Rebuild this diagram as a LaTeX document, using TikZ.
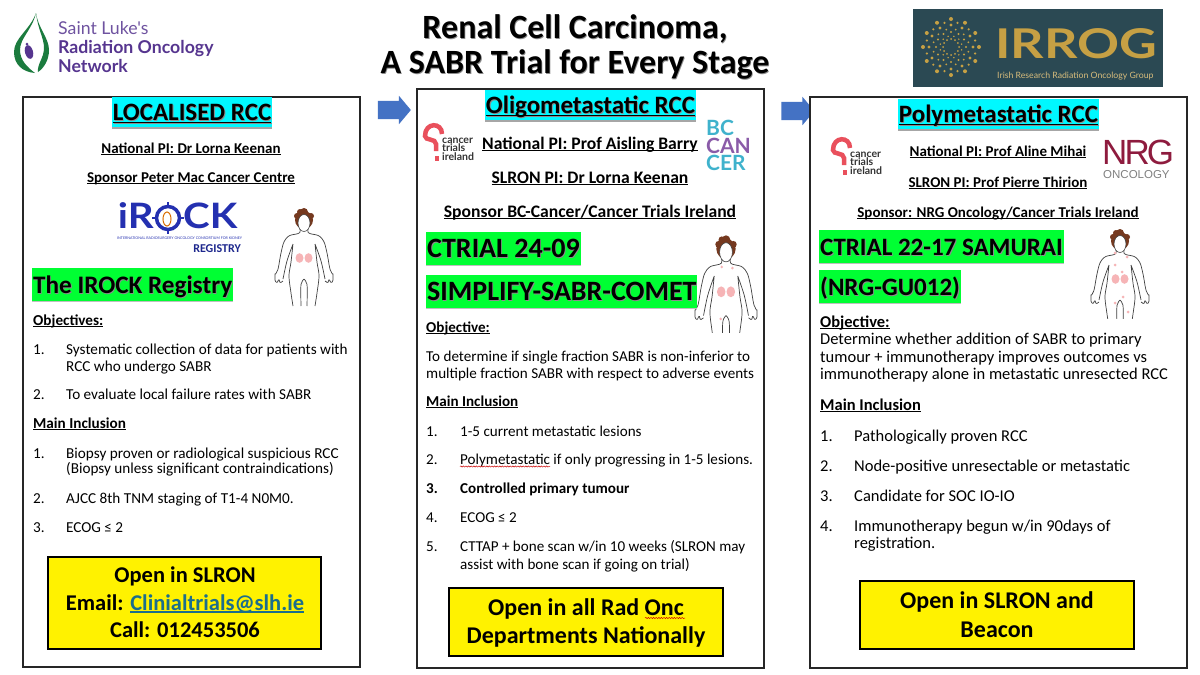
\documentclass[tikz,border=0pt]{standalone}
\usepackage{fontspec}
\setmainfont{Carlito}
\newfontfamily\logofont{Lato}
\newfontfamily\nrgfont{Liberation Sans}
\usetikzlibrary{shapes.arrows,shadows,decorations.pathmorphing}

\definecolor{irblue}{HTML}{4472C4}
\definecolor{irgreen}{HTML}{00FF33}
\definecolor{ircyan}{HTML}{00F8FF}
\definecolor{slpurple}{HTML}{56358F}
\definecolor{slgreen}{HTML}{1B7B3E}
\definecolor{irgold}{HTML}{C6A044}
\definecolor{irslate}{HTML}{2B4953}
\definecolor{rockblue}{HTML}{2430B0}
\definecolor{ctipink}{HTML}{E9505C}
\definecolor{bcteal}{HTML}{3FB2CC}
\definecolor{bcpurple}{HTML}{8A5BA8}
\definecolor{nrgred}{HTML}{8E1B3E}
\definecolor{mailblue}{HTML}{1B6E8C}
\definecolor{kidney}{HTML}{F6B4B6}
\definecolor{hair}{HTML}{75391F}

\newcommand{\fsz}[1]{\fontsize{#1}{#1}\selectfont}
\newcommand{\shtx}[1]{\leavevmode\rlap{\raisebox{-1pt}{\kern.8pt\textcolor{black!45}{#1}}}#1}
\newcommand{\uln}[1]{\leavevmode\setbox0\hbox{#1}\rlap{\rule[-.13em]{\wd0}{.07em}}\box0 }

\tikzset{
  x=1pt, y=-1pt,
  panel/.style={draw=black!85, line width=1.5pt, fill=white, inner sep=0pt},
  head/.style={anchor=base, fill=ircyan, inner xsep=1pt, inner ysep=0pt,
    text height=23pt, text depth=7pt, font=\bfseries\fsz{25},
    drop shadow={shadow xshift=0pt, shadow yshift=-1.5pt, fill=black!35, opacity=1}},
  trial/.style={anchor=base west, fill=irgreen, inner xsep=1pt, inner ysep=0pt,
    text height=25pt, text depth=8pt, font=\bfseries\fsz{#1},
    drop shadow={shadow xshift=0pt, shadow yshift=-1pt, fill=black!25, opacity=1}},
  openbox/.style={draw=black, line width=1.5pt, fill=yellow, inner sep=0pt},
  openline/.style={anchor=base, inner sep=0pt, font=\bfseries\fsz{#1}},
  who/.style={anchor=base, inner sep=0pt, font=\bfseries\fsz{#1}},
  txt/.style={anchor=base west, inner sep=0pt, font=\fsz{#1}},
  logotxt/.style={anchor=base west, inner sep=0pt, text=#1},
  blockarrow/.style={single arrow, fill=irblue, inner sep=0pt, minimum height=33pt,
    minimum width=28pt, single arrow head extend=5pt, single arrow tip angle=100,
    text height=9pt, text depth=9pt},
  squigline/.style={red!80!black, line width=.5pt, decorate,
    decoration={snake, amplitude=.6pt, segment length=2.6pt}},
  pics/body/.style={code={
    % --- Both halves of the outline ---
    \foreach \sd in {1,-1}{
      \draw[black!75, line width=.7pt, xscale=\sd, rounded corners=1pt]
        plot[smooth] coordinates {(4,8) (5,12) (15,15) (20,21) (23,32) (26,48) (29,54)}
        -- (29,60) -- (27,62) -- (25,58) -- (24,62) -- (21,60)
        plot[smooth] coordinates {(21,58) (17,40) (11,23)}
        plot[smooth] coordinates {(11,23) (13,41) (15,55) (13,72) (11,85)}
        plot[smooth] coordinates {(3,85) (3,64) (0,58)};
      \fill[kidney] (4.5*\sd,37) ellipse [x radius=4pt, y radius=4.8pt];
    }
    % --- Head ---
    \fill[hair] (0,-1) ellipse [x radius=9pt, y radius=9pt];
    \fill[hair] (-7,-5) circle (3pt) (7,-5) circle (3pt) (0,-9) circle (4pt) (-4,-9) circle (3pt);
    \draw[black!75, fill=white, line width=.6pt] (0,2) ellipse [x radius=6pt, y radius=8.5pt];
  }},
  pics/metsolig/.style={code={
    \foreach \mx/\my in {-4/15,6/16,-5/61}
      \fill[kidney] (\mx,\my) circle (1.3pt);
  }},
  pics/metspoly/.style={code={
    \foreach \mx/\my in {-5/11,7/15,-5/23,3/55,-5/61,8/70,2/30}
      \fill[kidney] (\mx,\my) circle (1.5pt);
  }},
  pics/cti/.style={code={
    \draw[ctipink, line width=4.5pt]
      (9,1) .. controls (9,-11) and (-8,-11) .. (-8,3)
      .. controls (-8,8) and (3,5) .. (3,11) -- (3,18);
    \fill[ctipink] (2,23) rectangle (6,28);
    \node[logotxt=black!80, font=\logofont\bfseries\fsz{10.5}] (-ca) at (9,10) {cancer};
    \node[logotxt=black!80, font=\logofont\bfseries\fsz{10.5}] (-tr) at (9,18.5) {trials};
    \node[logotxt=black!80, font=\logofont\bfseries\fsz{10.5}] (-ir) at (9,27) {ireland};
  }},
}

\begin{document}
\begin{tikzpicture}
  \useasboundingbox (0,0) rectangle (1200,675);
  \fill[white] (0,0) rectangle (1200,675);

  % --- Title ---
  \node[anchor=base, inner sep=0pt, font=\bfseries\fsz{34}] (titlea) at (575,38) {\shtx{Renal Cell Carcinoma,}};
  \node[anchor=base, inner sep=0pt, font=\bfseries\fsz{34}] (titleb) at (575,73) {\shtx{A SABR Trial for Every Stage}};

  % --- Saint Luke's logo ---
  \fill[slgreen] (36,13) .. controls (30,30) and (14,38) .. (14,52)
    .. controls (14,64) and (22,72) .. (35,73)
    .. controls (27,67) and (20,60) .. (20,50)
    .. controls (20,38) and (32,30) .. (36,13);
  \fill[slgreen] (36,13) .. controls (38,28) and (49,38) .. (49,50)
    .. controls (49,60) and (44,68) .. (38,72)
    .. controls (37,64) and (44,58) .. (44,48)
    .. controls (44,38) and (38,30) .. (36,13);
  \fill[slpurple, rotate around={15:(29,52)}] (29,52) ellipse [x radius=4pt, y radius=7pt];
  \fill[slpurple] (27,44) circle (1.5pt);
  \node[logotxt=slpurple!85, font=\logofont\fsz{17.7}] (slrona) at (58,34) {Saint Luke's};
  \node[logotxt=slpurple, font=\logofont\bfseries\fsz{17.7}] (slronb) at (58,53) {Radiation Oncology};
  \node[logotxt=slpurple, font=\logofont\bfseries\fsz{17.7}] (slronc) at (58,72) {Network};

  % --- IRROG logo ---
  \fill[irslate] (913,9) rectangle (1163,87);
  \foreach \ang in {0,30,...,330}{
    \foreach \rr/\dd in {8/1,15/1.2,22/1.6,28/2}
      \fill[irgold] (951,47) ++(\ang:\rr pt) circle (\dd pt);
    \foreach \rr/\dd in {11/.8,18/1,25/1.2}
      \fill[irgold] (951,47) ++(\ang+15:\rr pt) circle (\dd pt);
  }
  \node[logotxt=irgold, font=\logofont\bfseries\fsz{41}] (irrogname) at (995,58) {\scalebox{1.27}[1]{IRROG}};
  \node[logotxt=irgold!70!white, font=\logofont\fsz{8.7}] (irrogsub) at (997,78) {Irish Research Radiation Oncology Group};

  % --- Arrows between panels ---
  \node[blockarrow] (arrowa) at (390.5,110) {};
  \node[blockarrow] (arrowb) at (794,111) {};

  % --- Localised panel ---
  \node[panel, minimum width=337pt, minimum height=570pt] (locpanel) at (191.5,382) {};
  \node[head] (lochead) at (192,120) {\shtx{\uln{LOCALISED RCC}}};
  \node[who=15] (locpi) at (191,153) {\uln{National PI: Dr Lorna Keenan}};
  \node[who=15] (locsp) at (191,182) {\uln{Sponsor Peter Mac Cancer Centre}};

  \node[logotxt=rockblue, font=\logofont\bfseries\fsz{35}, anchor=base east] (rocka) at (154,228) {\scalebox{1.15}[1]{iR}};
  \draw[rockblue, line width=3.5pt] (168,218) circle (11.5pt);
  \draw[rockblue, line width=1.5pt] (168,202) -- (168,207) (168,229) -- (168,234) (152,218) -- (157,218) (179,218) -- (184,218);
  \draw[orange!85!black, line width=1pt] (167,219) ellipse [x radius=4pt, y radius=7pt];
  \node[logotxt=rockblue, font=\logofont\bfseries\fsz{35}] (rockb) at (183,228) {\scalebox{1.15}[1]{CK}};
  \node[logotxt=rockblue, font=\logofont\fsz{3.6}] (rockc) at (117,239) {INTERNATIONAL RADIOSURGERY ONCOLOGY CONSORTIUM FOR KIDNEY};
  \node[logotxt=rockblue!80!black, font=\bfseries\fsz{12}, anchor=base east] (rockd) at (241,252) {REGISTRY};

  \pic at (304,221) {body};
  \node[trial=25.2] (loctrial) at (32,293) {\shtx{The IROCK Registry}};

  \foreach \nm/\xx/\yy/\tx in {
    a/33/325/{\textbf{\uln{Objectives:}}},
    b/33/354/{1.}, c/66/354/{Systematic collection of data for patients with},
    d/66/371/{RCC who undergo SABR},
    e/33/399/{2.}, f/66/399/{To evaluate local failure rates with SABR},
    g/33/428/{\textbf{\uln{Main Inclusion}}},
    h/33/458/{1.}, i/66/458/{Biopsy proven or radiological suspicious RCC},
    j/66/473/{(Biopsy unless significant contraindications)},
    k/33/503/{2.}, l/66/503/{AJCC 8th TNM staging of T1-4 N0M0.},
    m/33/532/{3.}, n/66/532/{ECOG ≤ 2}}
    \node[txt=15.2] (loc\nm) at (\xx,\yy) {\tx};

  \node[openbox, minimum width=273pt, minimum height=92pt] (locopen) at (184.5,603) {};
  \node[openline=22.5] (locopena) at (185,582) {Open in SLRON};
  \node[openline=22.5] (locopenb) at (185,610) {Email: \textcolor{mailblue}{\uln{Clinialtrials@slh.ie}}};
  \node[openline=22.5] (locopenc) at (185,637) {Call: 012453506};

  % --- Oligometastatic panel ---
  \node[panel, minimum width=347pt, minimum height=579pt] (oligpanel) at (590.5,378.5) {};
  \node[head] (olighead) at (590.5,113) {\shtx{\uln{Oligometastatic RCC}}};
  \pic (ctia) at (433,133) {cti};
  \node[who=17.6] (oligpi) at (590,149) {\uln{National PI: Prof Aisling Barry}};
  \node[who=17.6] (oligsl) at (590,183) {\uln{SLRON PI: Dr Lorna Keenan}};
  \node[who=17.6] (oligsp) at (590,217) {\uln{Sponsor BC-Cancer/Cancer Trials Ireland}};
  \node[anchor=north west, inner sep=0pt, align=left, font=\logofont\bfseries\fontsize{21}{17.5}\selectfont] (bclogo) at (706,120)
    {\textcolor{bcteal}{BC}\\\textcolor{bcpurple}{CAN}\\\textcolor{bcteal}{CER}};

  \begin{scope}
    \clip (690,230) rectangle (765,332);
    \pic[xscale=1.07, yscale=1.13] at (726,250) {body};
    \pic[xscale=1.07, yscale=1.13] at (726,250) {metsolig};
  \end{scope}
  \node[trial=28] (oligtriala) at (426,257) {\shtx{CTRIAL 24-09}};
  \node[trial=28] (oligtrialb) at (426,300) {\shtx{SIMPLIFY-SABR-COMET}};

  \foreach \nm/\xx/\yy/\tx in {
    a/426/332/{\textbf{\uln{Objective:}}},
    b/426/361/{To determine if single fraction SABR is non-inferior to},
    c/426/378/{multiple fraction SABR with respect to adverse events},
    d/426/406/{\textbf{\uln{Main Inclusion}}},
    e/426/436/{1.}, f/460/436/{1-5 current metastatic lesions},
    g/426/464/{2.}, h/460/464/{Polymetastatic if only progressing in 1-5 lesions.},
    i/426/493/{\textbf{3.}}, j/460/493/{\textbf{Controlled primary tumour}},
    k/426/522/{4.}, l/460/522/{ECOG ≤ 2},
    m/426/551/{5.}, n/460/551/{CTTAP + bone scan w/in 10 weeks (SLRON may},
    o/460/569/{assist with bone scan if going on trial)}}
    \node[txt=15.1] (olig\nm) at (\xx,\yy) {\tx};
  \draw[squigline] (460,466.5) -- (550,466.5);

  \node[openbox, minimum width=274pt, minimum height=68pt] (oligopen) at (586,622) {};
  \node[openline=24] (oligopena) at (586,615) {Open in all Rad Onc};
  \node[openline=24] (oligopenb) at (586,643) {Departments Nationally};
  \draw[squigline] (645,618) -- (685,618);

  % --- Polymetastatic panel ---
  \node[panel, minimum width=377pt, minimum height=571pt] (polypanel) at (998.5,382.5) {};
  \node[head] (polyhead) at (998.5,122) {\shtx{\uln{Polymetastatic RCC}}};
  \pic (ctib) at (841,147) {cti};
  \node[who=15] (polypi) at (998,156) {\uln{National PI: Prof Aline Mihai}};
  \node[who=15] (polysl) at (998,187) {\uln{SLRON PI: Prof Pierre Thirion}};
  \node[who=15] (polysp) at (998,217) {\uln{Sponsor: NRG Oncology/Cancer Trials Ireland}};
  \node[anchor=north west, inner sep=0pt, align=left, font=\nrgfont\fontsize{35}{14}\selectfont] (nrglogo) at (1103,140)
    {\textcolor{nrgred}{\kern-1pt N\kern-3pt R\kern-3pt G}\\{\fontsize{11.5}{14}\selectfont\textcolor{black!50}{ONCOLOGY}}};

  \begin{scope}
    \clip (1085,225) rectangle (1155,318);
    \pic at (1120,242) {body};
    \pic at (1120,242) {metspoly};
  \end{scope}
  \node[trial=25] (polytriala) at (819,255) {\shtx{CTRIAL 22-17 SAMURAI}};
  \node[trial=25] (polytrialb) at (819,295) {\shtx{(NRG-GU012)}};

  \foreach \nm/\xx/\yy/\tx in {
    a/820/327/{\textbf{\uln{Objective:}}},
    b/820/344/{Determine whether addition of SABR to primary},
    c/820/362/{tumour + immunotherapy improves outcomes vs},
    d/820/379/{immunotherapy alone in metastatic unresected RCC},
    e/820/410/{\textbf{\uln{Main Inclusion}}},
    f/820/441/{1.}, g/854/441/{Pathologically proven RCC},
    h/820/471/{2.}, i/854/471/{Node-positive unresectable or metastatic},
    j/820/501/{3.}, k/854/501/{Candidate for SOC IO-IO},
    l/820/531/{4.}, m/854/531/{Immunotherapy begun w/in 90days of},
    n/854/548/{registration.}}
    \node[txt=16.5] (poly\nm) at (\xx,\yy) {\tx};

  \node[openbox, minimum width=274pt, minimum height=68pt] (polyopen) at (997,615) {};
  \node[openline=24] (polyopena) at (997,608) {Open in SLRON and};
  \node[openline=24] (polyopenb) at (997,637) {Beacon};
\end{tikzpicture}
\end{document}
